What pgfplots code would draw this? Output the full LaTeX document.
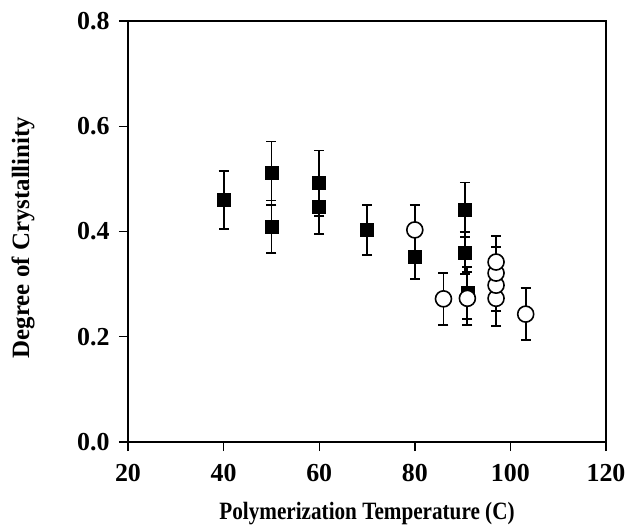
\documentclass[border=0pt]{standalone}
\usepackage{fontspec}
\setmainfont{Liberation Serif}
\usepackage{pgfplots}
\pgfplotsset{compat=1.18}
\begin{document}
\begin{tikzpicture}
\useasboundingbox (0,0) rectangle (629bp,527bp);
\begin{axis}[
  at={(128bp,85bp)}, anchor=south west,
  width=478bp, height=421bp, scale only axis,
  xmin=20, xmax=120, ymin=0, ymax=0.8,
  xtick={20,40,...,120}, ytick={0,0.2,...,0.8},
  yticklabel style={/pgf/number format/fixed, /pgf/number format/fixed zerofill, /pgf/number format/precision=1},
  /pgf/number format/assume math mode=true,
  tick align=outside, tick pos=left,
  major tick length=9bp,
  axis line style={line width=1.6bp},
  every tick/.style={line width=1.4bp,black},
  tick label style={font=\fontsize{26}{30}\selectfont\bfseries},
  xticklabel style={anchor=center, yshift=-22bp},
  yticklabel style={anchor=east, xshift=-6bp},
  xlabel={Polymerization Temperature (C)},
  ylabel={Degree of Crystallinity},
  xlabel style={font=\fontsize{25}{30}\selectfont\bfseries, xscale=0.85,
    at={(axis description cs:0.5,0)}, anchor=center, yshift=-72bp},
  ylabel style={font=\fontsize{25}{30}\selectfont\bfseries,
    at={(axis description cs:0,0.5)}, anchor=center, yshift=105bp, xshift=-6bp},
  clip=false,
]
\addplot[black, only marks, mark=square*, mark size=6.5bp,
  mark options={solid, line width=0.5bp},
  error bars/.cd, y dir=both, y explicit,
  error mark options={rotate=90, mark size=5bp, line width=1.8bp},
  error bar style={line width=1.8bp}]
coordinates {
(40,0.460) +- (0,0.055)
(50,0.511) +- (0,0.060)
(50,0.409) +- (0,0.050)
(60,0.492) +- (0,0.062)
(60,0.447) +- (0,0.052)
(70,0.403) +- (0,0.048)
(80,0.352) +- (0,0.043)
(90.5,0.441) +- (0,0.052)
(90.5,0.359) +- (0,0.040)
(91,0.283) +- (0,0.050)
};
\addplot[black, only marks, mark=*, mark size=8bp,
  mark options={solid, fill=white, line width=1.6bp},
  error bars/.cd, y dir=both, y explicit,
  error mark options={rotate=90, mark size=5bp, line width=1.8bp},
  error bar style={line width=1.8bp}]
coordinates {
(80,0.403) +- (0,0.047)
(86,0.272) +- (0,0.049)
(91,0.273) +- (0,0.050)
(97,0.273) +- (0,0.052)
(97,0.298) +- (0,0.049)
(97,0.321) +- (0,0.050)
(97,0.342) +- (0,0.049)
(103.2,0.243) +- (0,0.049)
};
\end{axis}
\end{tikzpicture}
\end{document}
